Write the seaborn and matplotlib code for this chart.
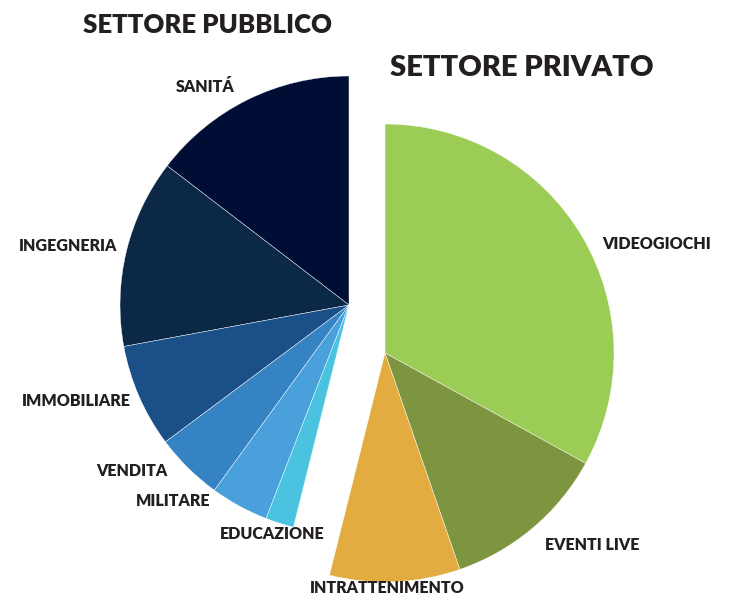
import matplotlib
matplotlib.use("Agg")
import matplotlib.pyplot as plt
import seaborn as sns

# quote in percento
privato_labels = ["VIDEOGIOCHI", "EVENTI LIVE", "INTRATTENIMENTO"]
privato_values = [33.0, 11.7, 9.2]
privato_colors = ["#9BCC55", "#7E9540", "#E3AC40"]

pubblico_labels = ["SANITÁ", "INGEGNERIA", "IMMOBILIARE", "VENDITA", "MILITARE", "EDUCAZIONE"]
pubblico_values = [14.6, 13.3, 7.3, 4.8, 4.1, 2.0]
pubblico_colors = ["#000E35", "#0B2847", "#1A4F88", "#3583C3", "#4AA0DA", "#4AC3E0"]

sns.set_theme(style="white")
plt.rcParams["font.family"] = ["Lato", "DejaVu Sans"]

W, H = 729, 596
fig = plt.figure(figsize=(W / 100, H / 100), dpi=100)
ax = fig.add_axes([0, 0, 1, 1])

R = 229
c_pub = (349, H - 305)
c_priv = (385, H - 353)

ax.pie([v / 100 for v in pubblico_values], colors=pubblico_colors, startangle=90,
       counterclock=True, normalize=False, radius=R, center=c_pub,
       wedgeprops=dict(edgecolor="white", linewidth=0.3))
ax.pie([v / 100 for v in privato_values], colors=privato_colors, startangle=90,
       counterclock=False, normalize=False, radius=R, center=c_priv,
       wedgeprops=dict(edgecolor="white", linewidth=0.3))

ax.set_xlim(0, W)
ax.set_ylim(0, H)
ax.set_aspect("equal")
ax.axis("off")

txt = "#231F20"
label_pos = {
    "SANITÁ": (205, 87),
    "INGEGNERIA": (68, 246),
    "IMMOBILIARE": (76, 401),
    "VENDITA": (132, 471),
    "MILITARE": (173, 501),
    "EDUCAZIONE": (272, 534),
    "INTRATTENIMENTO": (387, 588),
    "EVENTI LIVE": (592, 545),
    "VIDEOGIOCHI": (657, 244),
}
for name, (x, y) in label_pos.items():
    ax.text(x, H - y, name, ha="center", va="center", fontsize=11.5,
            fontweight="heavy", color=txt)

ax.text(208, H - 25, "SETTORE PUBBLICO", ha="center", va="center",
        fontsize=18.5, fontweight="heavy", color=txt)
ax.text(522, H - 68, "SETTORE PRIVATO", ha="center", va="center",
        fontsize=21, fontweight="heavy", color=txt)

fig.savefig("out.png", dpi=100)
